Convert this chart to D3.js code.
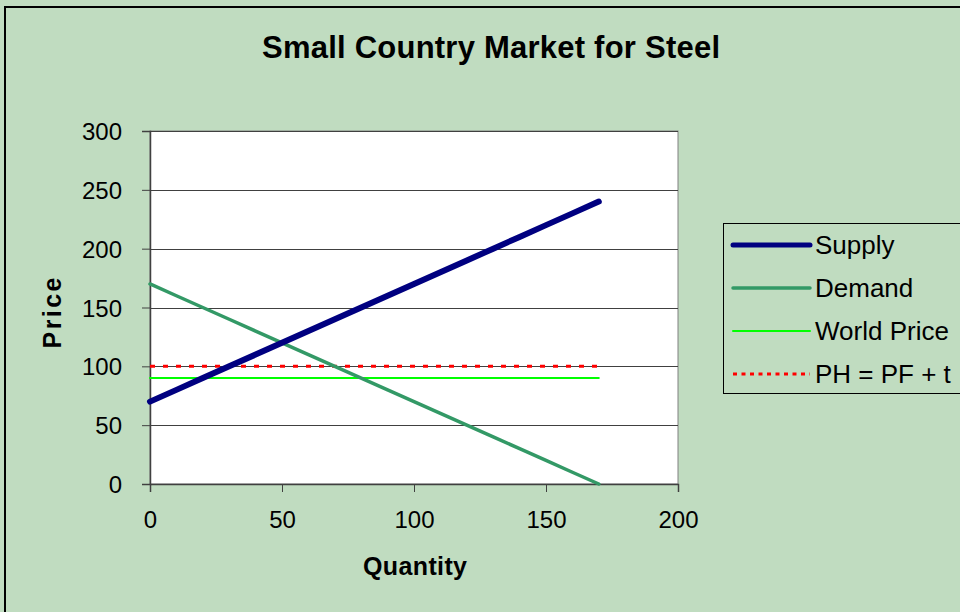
<!DOCTYPE html>
<html>
<head>
<meta charset="utf-8">
<script src="https://cdn.jsdelivr.net/npm/d3@7"></script>
<style>
  body { margin: 0; background: #c0dcc0; }
  text { font-family: "Liberation Sans", Arial, sans-serif; }
</style>
</head>
<body>
<div id="chart"></div>
<script>
// data
var quantity = [0, 10, 20, 30, 40, 50, 60, 70, 80, 90, 100, 110, 120, 130, 140, 150, 160, 170];
var supply   = [70, 80, 90, 100, 110, 120, 130, 140, 150, 160, 170, 180, 190, 200, 210, 220, 230, 240];
var demand   = [170, 160, 150, 140, 130, 120, 110, 100, 90, 80, 70, 60, 50, 40, 30, 20, 10, 0];
var worldPrice = [90, 90];
var homePrice  = [100, 100];
var flatQty    = [0, 170];
var xTicks = [0, 50, 100, 150, 200];
var yTicks = [0, 50, 100, 150, 200, 250, 300];

var series = [
  {name: "Supply", q: quantity, p: supply, color: "#000080", width: 6, dash: null},
  {name: "Demand", q: quantity, p: demand, color: "#339966", width: 3.5, dash: null},
  {name: "World Price", q: flatQty, p: worldPrice, color: "#00ff00", width: 2, dash: null},
  {name: "PH = PF + t", q: flatQty, p: homePrice, color: "#ff0000", width: 3, dash: "5,8"}
];

var W = 960, H = 612;
var margin = {top: 131, left: 150},
    width = 528,
    height = 353;

var svg = d3.select("#chart").append("svg")
    .attr("width", W)
    .attr("height", H);

svg.append("rect")
    .attr("x", 0).attr("y", 0).attr("width", W).attr("height", H)
    .attr("fill", "#c0dcc0");

// outer frame
svg.append("rect")
    .attr("x", 5).attr("y", 7).attr("width", W + 20).attr("height", H + 20)
    .attr("fill", "none").attr("stroke", "#000").attr("stroke-width", 2);

svg.append("text")
    .attr("x", 491).attr("y", 58)
    .attr("text-anchor", "middle")
    .attr("textLength", 458).attr("lengthAdjust", "spacing")
    .style("font-size", "31px").style("font-weight", "bold")
    .text("Small Country Market for Steel");

var g = svg.append("g")
    .attr("transform", "translate(" + margin.left + "," + margin.top + ")");

var xScale = d3.scaleLinear().domain([0, 200]).range([0, width]);
var yScale = d3.scaleLinear().domain([0, 300]).range([height, 0]);

g.append("rect")
    .attr("width", width).attr("height", height)
    .attr("fill", "#fff")
    .attr("stroke", "#808080");

// gridlines
g.selectAll(".grid")
  .data(yTicks.slice(1))
  .enter().append("line")
    .attr("class", "grid")
    .attr("x1", 0).attr("x2", width)
    .attr("y1", function(d) { return Math.round(yScale(d)) + 0.5; })
    .attr("y2", function(d) { return Math.round(yScale(d)) + 0.5; })
    .attr("stroke", "#404040").attr("stroke-width", 1);

var xAxis = g.append("g")
    .attr("transform", "translate(0," + height + ")")
    .call(d3.axisBottom(xScale).tickValues(xTicks).tickSize(8).tickPadding(19).tickFormat(d3.format("d")));
var yAxis = g.append("g")
    .call(d3.axisLeft(yScale).tickValues(yTicks).tickSize(8).tickPadding(20).tickFormat(d3.format("d")));

[xAxis, yAxis].forEach(function(a) {
  a.selectAll("path").attr("stroke", "#404040").attr("stroke-width", 1.5);
  a.selectAll("line").attr("stroke", "#404040");
  a.selectAll("text")
    .attr("fill", "#000")
    .style("font-family", "'Liberation Sans', Arial, sans-serif")
    .style("font-size", "24px");
});
yAxis.selectAll("text").attr("dy", "0.36em");

var line = d3.line()
    .x(function(d) { return xScale(d[0]); })
    .y(function(d) { return yScale(d[1]); });

series.slice().reverse().forEach(function(s) {
  var pts = s.q.map(function(q, i) { return [q, s.p[i]]; });
  g.append("path")
    .datum(pts)
    .attr("d", line)
    .attr("fill", "none")
    .attr("stroke", s.color)
    .attr("stroke-width", s.width)
    .attr("stroke-linecap", s.dash ? "butt" : "round")
    .attr("stroke-dasharray", s.dash);
});

svg.append("text")
    .attr("transform", "translate(61,313) rotate(-90)")
    .attr("text-anchor", "middle")
    .attr("textLength", 71).attr("lengthAdjust", "spacing")
    .style("font-size", "25px").style("font-weight", "bold")
    .text("Price");

svg.append("text")
    .attr("x", 415).attr("y", 575)
    .attr("text-anchor", "middle")
    .attr("textLength", 104).attr("lengthAdjust", "spacing")
    .style("font-size", "25px").style("font-weight", "bold")
    .text("Quantity");

// legend
var legend = svg.append("g").attr("transform", "translate(723,223)");
legend.append("rect")
    .attr("x", 0.5).attr("y", 0.5).attr("width", 260).attr("height", 170)
    .attr("fill", "#c0dcc0").attr("stroke", "#000").attr("stroke-width", 1);

var rows = legend.selectAll(".legendRow")
  .data(series)
  .enter().append("g")
    .attr("class", "legendRow")
    .attr("transform", function(d, i) { return "translate(0," + (22 + i * 43) + ")"; });

rows.append("line")
    .attr("x1", 10).attr("x2", 87)
    .attr("stroke", function(d) { return d.color; })
    .attr("stroke-width", function(d) { return d.dash ? 3 : Math.min(d.width, 5); })
    .attr("stroke-linecap", function(d) { return d.dash ? "butt" : "round"; })
    .attr("stroke-dasharray", function(d) { return d.dash ? "4,4.5" : null; });

rows.append("text")
    .attr("x", 92).attr("y", 0).attr("dy", "0.36em")
    .style("font-size", "26px")
    .text(function(d) { return d.name; });
</script>
</body>
</html>
